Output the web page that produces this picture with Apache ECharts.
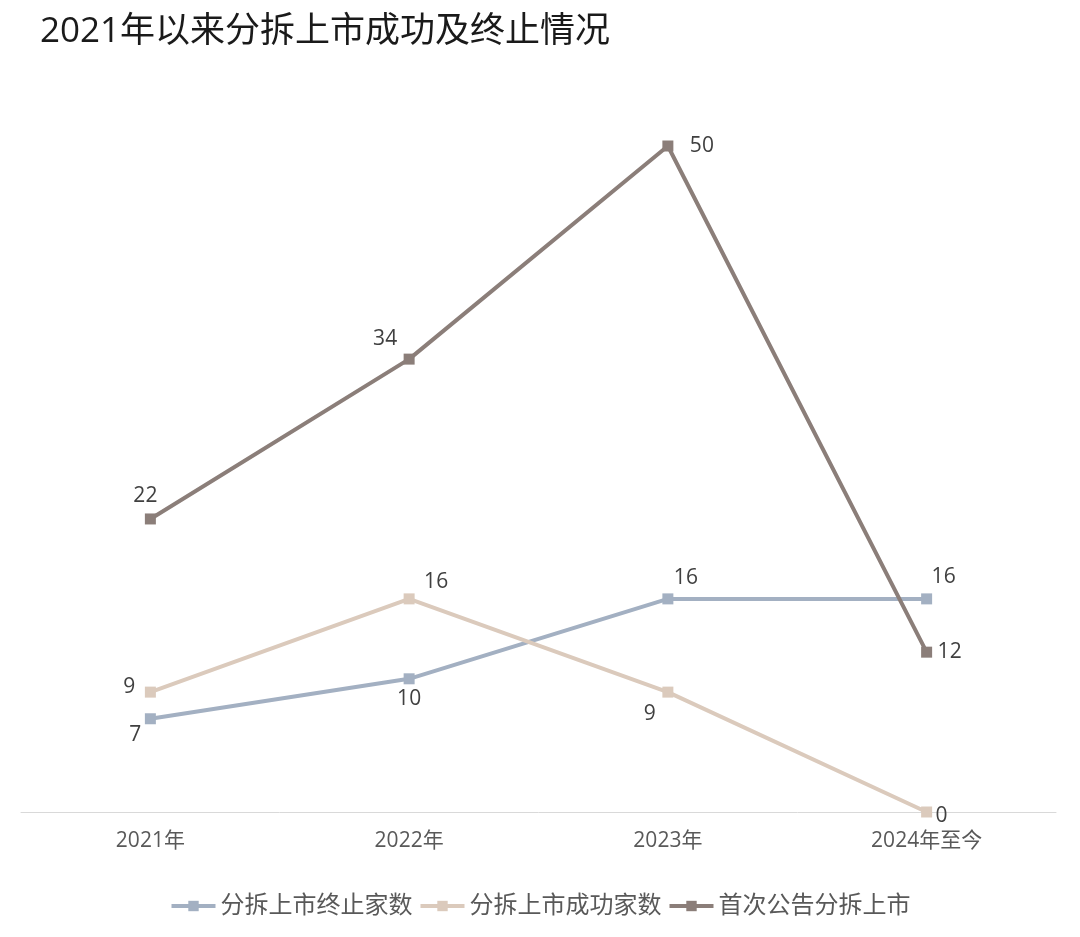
<!DOCTYPE html>
<html><head><meta charset="utf-8">
<script src="https://cdn.jsdelivr.net/npm/echarts@6/dist/echarts.min.js"></script>
<style>html,body{margin:0;padding:0;background:#fff}#c{width:1080px;height:937px}</style>
</head><body><div id="c"></div>
<script>
const categories = ['2021年','2022年','2023年','2024年至今'];
const terminated = [7, 10, 16, 16];
const succeeded = [9, 16, 9, 0];
const announced = [22, 34, 50, 12];
const seriesNames = ['分拆上市终止家数','分拆上市成功家数','首次公告分拆上市'];
const colors = ['#A3B0C2','#DBCABC','#8B7E79'];
// label offsets (layout only)
const offs = [
  [[-15,16],[0,20],[18,-21],[17,-22]],
  [[-21,-5],[27,-17],[-18,22],[15,4]],
  [[-5,-23],[-24,-20],[34,0],[23,0]]
];
const dataSets = [terminated, succeeded, announced];
const chart = echarts.init(document.getElementById('c'));
const font = '"Open Sans","Noto Sans CJK SC",sans-serif';
chart.setOption({
  animation:false,
  title:{text:'2021年以来分拆上市成功及终止情况',left:35,top:10,textStyle:{fontFamily:font,fontSize:35,fontWeight:'normal',color:'#1a1a1a'}},
  grid:{left:21,right:24,top:146,bottom:125},
  legend:{bottom:14,left:'center',itemWidth:44,itemHeight:13,itemGap:6,lineStyle:{width:4},textStyle:{fontFamily:font,fontSize:24,color:'#595959'},data:seriesNames},
  xAxis:{type:'category',data:categories,boundaryGap:true,axisLine:{lineStyle:{color:'#d9d9d9'}},axisTick:{show:false},axisLabel:{fontFamily:font,fontSize:21,color:'#595959',margin:19}},
  yAxis:{type:'value',min:0,max:50,show:false,splitLine:{show:false}},
  series: dataSets.map((d,si)=>({
    name:seriesNames[si],type:'line',symbol:'rect',symbolSize:11,
    lineStyle:{width:4,color:colors[si]},itemStyle:{color:colors[si]},
    data:d.map((v,i)=>({value:v,label:{show:true,position:'inside',offset:offs[si][i],color:'#404040',fontSize:21,fontFamily:font}})),
    z:si===2?3:2
  }))
});
</script></body></html>
